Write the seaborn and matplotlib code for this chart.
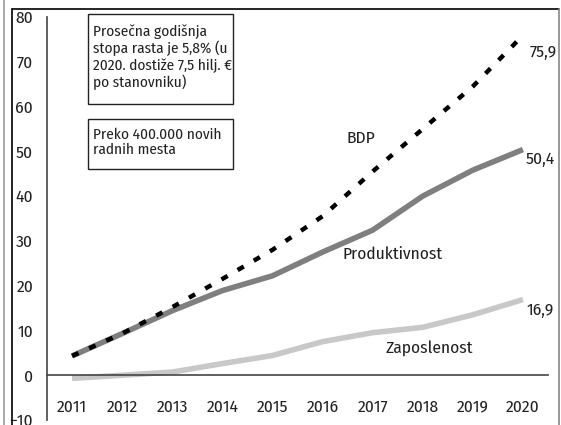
import matplotlib
matplotlib.use('Agg')
import matplotlib.pyplot as plt
from matplotlib import font_manager
from matplotlib.patches import Rectangle
from matplotlib.lines import Line2D
from matplotlib.ticker import FixedLocator
import seaborn as sns
import pandas as pd

years = [2011, 2012, 2013, 2014, 2015, 2016, 2017, 2018, 2019, 2020]
bdp = [4.3, 9.3, 15.2, 21.5, 28.0, 35.5, 45.5, 55.0, 64.5, 75.9]
produktivnost = [4.3, 9.3, 14.4, 18.9, 22.2, 27.5, 32.4, 40.0, 45.8, 50.4]
zaposlenost = [-0.7, 0.0, 0.7, 2.6, 4.4, 7.5, 9.5, 10.7, 13.5, 16.9]
end_labels = ['75,9', '50,4', '16,9']
box1_text = 'Prosečna godišnja\nstopa rasta je 5,8% (u\n2020. dostiže 7,5 hilj. €\npo stanovniku)'
box2_text = 'Preko 400.000 novih\nradnih mesta'

sns.set_style('white')

# condensed humanist face, closest to the original; first one installed wins
installed = set(f.name for f in font_manager.fontManager.ttflist)
wanted = ['Fira Sans Condensed', 'PT Sans Narrow', 'Open Sans Condensed',
          'Asap Condensed', 'Archivo Narrow', 'Liberation Sans']
fams = [f for f in wanted if f in installed][:1] + ['DejaVu Sans']
plt.rcParams['font.family'] = fams

df = pd.DataFrame({'year': years, 'BDP': bdp,
                   'Produktivnost': produktivnost, 'Zaposlenost': zaposlenost})

fig = plt.figure(figsize=(5.61, 4.25), dpi=100)
ax = fig.add_axes([47/561, 5/425, 501/561, 403/425])

sns.lineplot(data=df, x='year', y='Zaposlenost', ax=ax, color='#c8c8c8', lw=4, solid_capstyle='butt')
sns.lineplot(data=df, x='year', y='Produktivnost', ax=ax, color='#7f7f7f', lw=4, solid_capstyle='butt')
sns.lineplot(data=df, x='year', y='BDP', ax=ax, color='black', lw=3.2,
             linestyle=(0, (1.6, 2.6)), dash_capstyle='butt')

ax.set_xlim(2010.5, 2020.5)
ax.set_ylim(-10, 80)
ax.set_xlabel('')
ax.set_ylabel('')
ax.set_yticks(range(-10, 81, 10))
ax.set_xticks(years)
ax.xaxis.set_minor_locator(FixedLocator([y + 0.5 for y in years]))
for s in ['top', 'right']:
    ax.spines[s].set_visible(False)
ax.spines['bottom'].set_position(('data', 0))
for s in ['left', 'bottom']:
    ax.spines[s].set_color('#444444')
    ax.spines[s].set_linewidth(1.2)
ax.tick_params(axis='y', direction='in', length=3, width=1.2, color='#444444',
               labelsize=12.5, pad=10, labelcolor='#222222')
ax.tick_params(axis='x', which='major', length=0, pad=17, labelsize=12.5, labelcolor='#222222')
ax.tick_params(axis='x', which='minor', direction='out', length=4, width=1.2, color='#444444')
ax.patch.set_alpha(0)

# text boxes
ax.add_patch(Rectangle((2011.32, 60.6), 2.89, 20.1, fill=False, ec='#222222', lw=1, clip_on=False))
ax.text(2011.42, 78.3, box1_text, va='top', ha='left', fontsize=11, linespacing=1.12, color='#222222')
ax.add_patch(Rectangle((2011.32, 46.1), 2.89, 11.2, fill=False, ec='#222222', lw=1, clip_on=False))
ax.text(2011.42, 55.3, box2_text, va='top', ha='left', fontsize=11, linespacing=1.12, color='#222222')

# series labels
ax.text(2016.77, 52.8, 'BDP', ha='center', va='center', fontsize=12.5, color='#222222')
ax.text(2016.39, 27.1, 'Produktivnost', ha='left', va='center', fontsize=12.5, color='#222222')
ax.text(2017.25, 6.1, 'Zaposlenost', ha='left', va='center', fontsize=12.5, color='#222222')
ax.text(2020.14, 72.2, end_labels[0], ha='left', va='center', fontsize=12.5, color='#222222', clip_on=False)
ax.text(2020.06, 48.3, end_labels[1], ha='left', va='center', fontsize=12.5, color='#222222', clip_on=False)
ax.text(2020.08, 14.6, end_labels[2], ha='left', va='center', fontsize=12.5, color='#222222', clip_on=False)

# outer frame
W, H = 561, 425
fig.add_artist(Line2D([3.5/W, 3.5/W], [0, 1], color='#999999', lw=1.2, transform=fig.transFigure))
fig.add_artist(Line2D([11.5/W, 11.5/W], [0, 1 - 9/H], color='black', lw=1.2, transform=fig.transFigure))
fig.add_artist(Line2D([11.5/W, 559/W], [1 - 9/H, 1 - 9/H], color='black', lw=1.2, transform=fig.transFigure))
fig.add_artist(Line2D([559/W, 559/W], [0, 1 - 9/H], color='#888888', lw=1.2, transform=fig.transFigure))

fig.savefig('out.png', dpi=100)
